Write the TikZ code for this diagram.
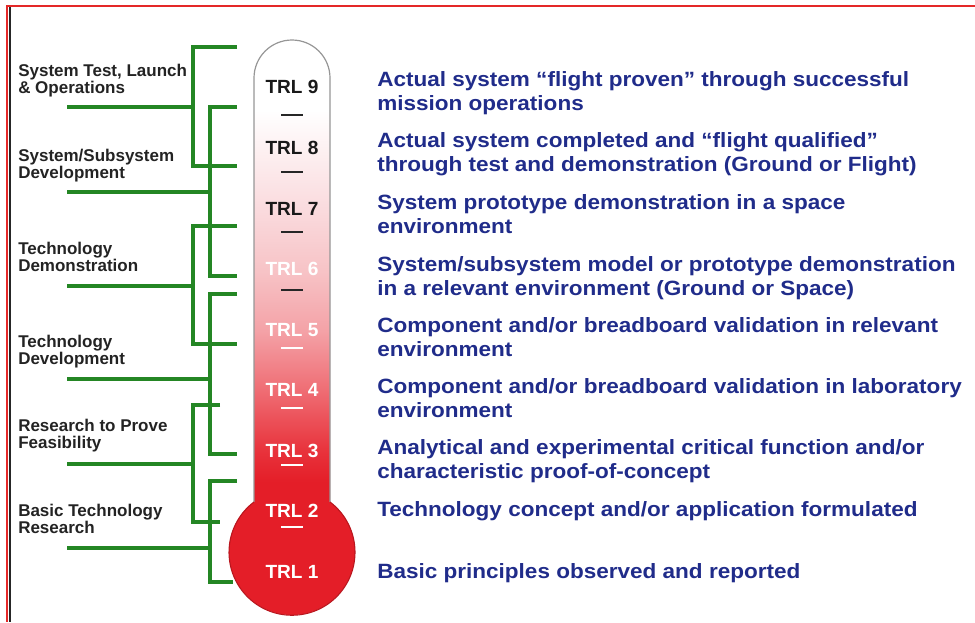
\documentclass[tikz,border=0pt]{standalone}
\usepackage{fontspec}
\setmainfont{Liberation Sans}
\newfontfamily\descfont[FakeStretch=1.09]{Liberation Sans}

\definecolor{bracketgreen}{RGB}{36,134,36}
\definecolor{descblue}{RGB}{32,44,138}
\definecolor{labelgray}{RGB}{35,35,35}
\definecolor{mercury}{RGB}{228,30,40}
\definecolor{bulbrim}{RGB}{185,22,30}
\definecolor{tubeedge}{RGB}{150,150,150}
\definecolor{framered}{RGB}{228,40,40}
\definecolor{tubeA}{HTML}{FDF0F1}
\definecolor{tubeB}{HTML}{FADADD}
\definecolor{tubeC}{HTML}{F7C3C6}
\definecolor{tubeD}{HTML}{F4A2A7}
\definecolor{tubeE}{HTML}{EF6C73}
\definecolor{tubeF}{HTML}{E8323B}

% white at the top of the tube, red towards the bulb
\pgfdeclareverticalshading{tubeshade}{100bp}{%
  color(0bp)=(mercury); color(28.2bp)=(mercury);
  color(31.4bp)=(tubeF); color(37.8bp)=(tubeE);
  color(44.2bp)=(tubeD); color(50.5bp)=(tubeC);
  color(56.9bp)=(tubeB); color(63.3bp)=(tubeA);
  color(67.6bp)=(white); color(100bp)=(white)}

\tikzset{
  trl/.style={font=\fontsize{14.3}{17}\selectfont\bfseries, inner sep=0, anchor=base},
  trldark/.style={trl, text=black!90},
  trllight/.style={trl, text=white},
  desc/.style={font=\descfont\fontsize{15.5}{18}\selectfont\bfseries, text=descblue,
    align=left, anchor=base west, inner sep=0},
  phase/.style={font=\fontsize{12.75}{12.4}\selectfont\bfseries, text=labelgray,
    align=left, anchor=base west, inner sep=0},
  bracket/.style={draw=bracketgreen, line width=2.5pt},
  tick/.style={line width=1.6pt},
}

\begin{document}
\begin{tikzpicture}[x=0.75pt, y=-0.75pt]
\useasboundingbox (0,0) rectangle (975,622);

% page frame
\draw[framered, line width=1.2pt] (975,6) -- (7,6) -- (7,622);
\draw[black!85, line width=1.5pt] (10,7) -- (10,622);

% thermometer tube and bulb
\shade[shading=tubeshade] (254,512) -- (254,78)
  arc[start angle=180, end angle=360, radius=38] -- (330,512) -- cycle;
\fill[mercury] (292,552) circle[radius=63];
\draw[tubeedge, line width=0.9pt] (254,502) -- (254,78)
  arc[start angle=180, end angle=360, radius=38] -- (330,502);
\draw[bulbrim, line width=0.8pt] (330,502)
  arc[start angle=-52.9, end angle=232.9, radius=63];

% readiness levels
\node[trldark]  (t9) at (292,93)  {TRL 9};
\node[trldark]  (t8) at (292,154) {TRL 8};
\node[trldark]  (t7) at (292,215) {TRL 7};
\node[trllight] (t6) at (292,275) {TRL 6};
\node[trllight] (t5) at (292,336) {TRL 5};
\node[trllight] (t4) at (292,396) {TRL 4};
\node[trllight] (t3) at (292,457) {TRL 3};
\node[trllight] (t2) at (292,517) {TRL 2};
\node[trllight] (t1) at (292,578) {TRL 1};

% scale marks between the levels
\foreach \yy in {115,172,232,290}
  \draw[tick, black!85] (281,\yy) -- (303,\yy);
\foreach \yy in {348,408,465,527}
  \draw[tick, white] (281,\yy) -- (303,\yy);

% level descriptions (two-line nodes sit on the baseline of their last line)
\node[desc] (d9) at (377,110) {Actual system “flight proven” through successful\\mission operations};
\node[desc] (d8) at (377,171) {Actual system completed and “flight qualified”\\through test and demonstration (Ground or Flight)};
\node[desc] (d7) at (377,233) {System prototype demonstration in a space\\environment};
\node[desc] (d6) at (377,295) {System/subsystem model or prototype demonstration\\in a relevant environment (Ground or Space)};
\node[desc] (d5) at (377,356) {Component and/or breadboard validation in relevant\\environment};
\node[desc] (d4) at (377,417) {Component and/or breadboard validation in laboratory\\environment};
\node[desc] (d3) at (377,478) {Analytical and experimental critical function and/or\\characteristic proof-of-concept};
\node[desc] (d2) at (377,516) {Technology concept and/or application formulated};
\node[desc] (d1) at (377,578) {Basic principles observed and reported};

% development phases
\node[phase] (p6) at (18,93)  {System Test, Launch\\\& Operations};
\node[phase] (p5) at (18,178) {System/Subsystem\\Development};
\node[phase] (p4) at (18,271) {Technology\\Demonstration};
\node[phase] (p3) at (18,364) {Technology\\Development};
\node[phase] (p2) at (18,448) {Research to Prove\\Feasibility};
\node[phase] (p1) at (18,533) {Basic Technology\\Research};

% brackets joining each phase to its span of levels
% bar x / top y / bottom y / phase line y / top tick end / bottom tick end
\foreach \bX/\yT/\yB/\yM/\xT/\xB in {
    193/47/166/107/237/237,
    210/107/276/192/237/237,
    193/226/344/286/237/237,
    210/294/454/379/237/237,
    193/405/522/464/220/220,
    210/481/582/548/237/233}
  \draw[bracket] (67,\yM) -- (\bX,\yM)
    (\xT,\yT) -- (\bX,\yT) -- (\bX,\yB) -- (\xB,\yB);
\end{tikzpicture}
\end{document}
